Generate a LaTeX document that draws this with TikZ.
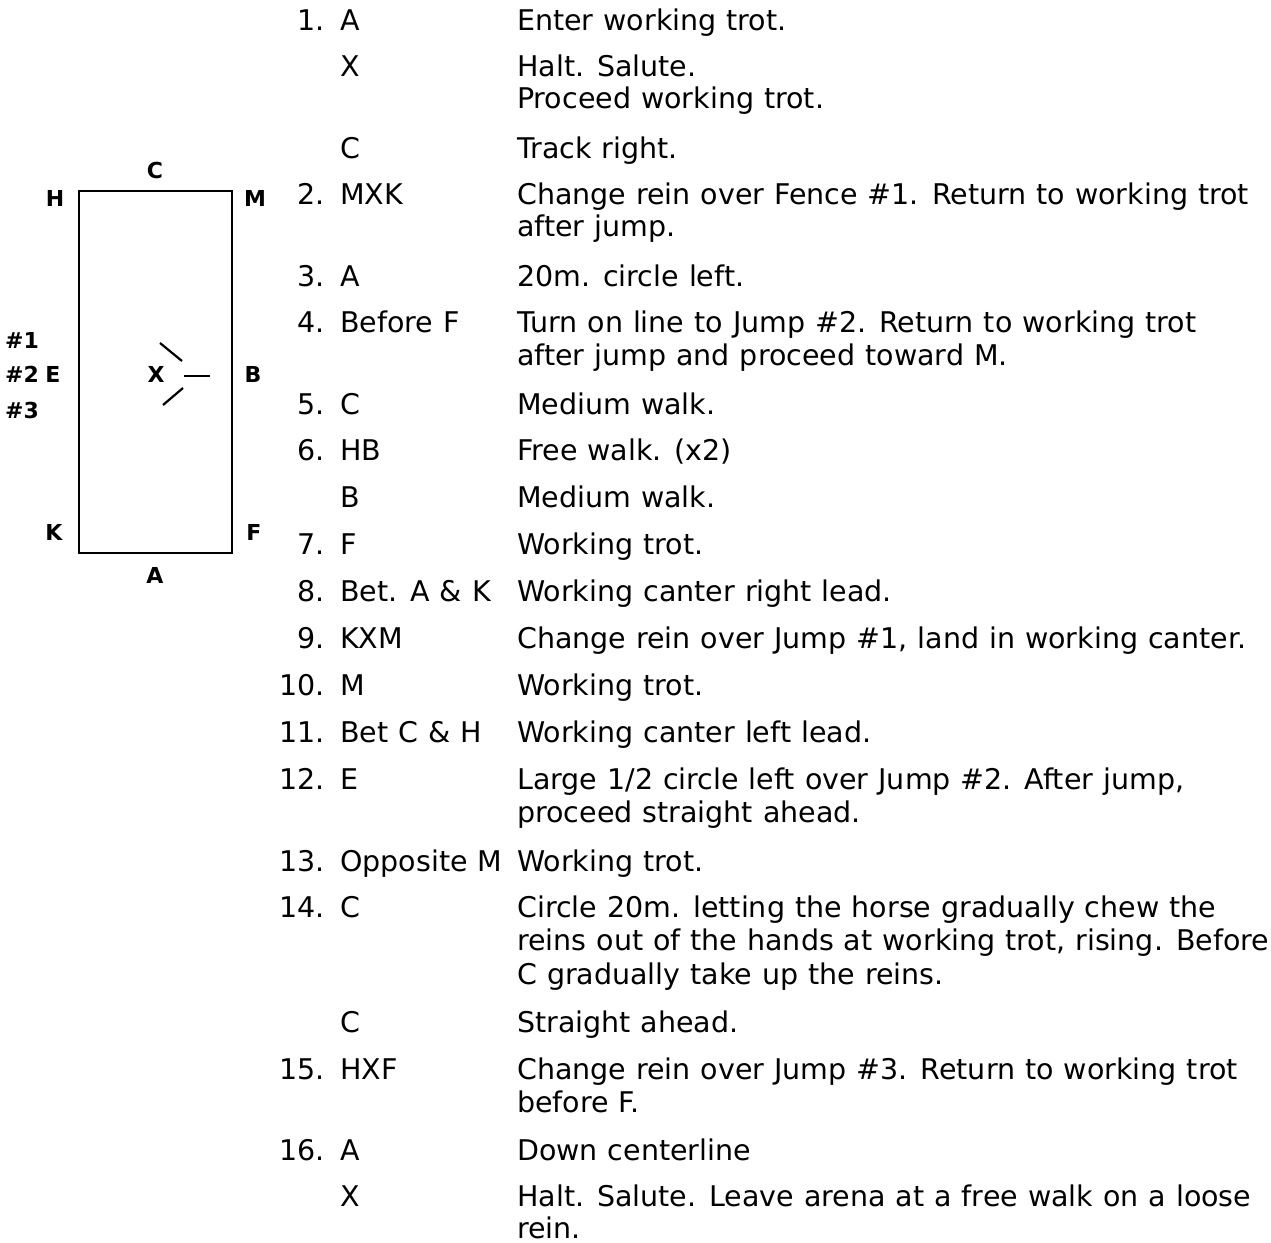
\documentclass[tikz,border=0pt]{standalone}
\usepackage{fontspec}
\setmainfont[WordSpace=1.1]{DejaVu Sans}
\newcommand{\txtfont}{\fontsize{28.5bp}{33bp}\selectfont}
\newcommand{\labfont}{\fontsize{22bp}{24bp}\selectfont\bfseries}
\begin{document}
\begin{tikzpicture}[x=1bp,y=-1bp,
  txt/.style={anchor=base west, inner sep=0pt, font=\txtfont},
  num/.style={anchor=base east, inner sep=0pt, font=\txtfont},
  lab/.style={anchor=base, inner sep=0pt, font=\labfont},
  arena/.style={line width=2.8bp, line join=miter},
  fence/.style={line width=2.2bp}]
\fill[white] (0,0) rectangle (1271,1243);
\useasboundingbox (0,0) rectangle (1271,1243);

% arena
\draw[arena] (79,191) rectangle (232,553);
\node[lab] (lC) at (155,178) {C};
\node[lab] (lH) at (55,206) {H};
\node[lab] (lM) at (255,206) {M};
\node[lab] (j1) at (22,348) {\#1};
\node[lab] (j2) at (22,382) {\#2};
\node[lab] (j3) at (22,418) {\#3};
\node[lab] (lE) at (53,382) {E};
\node[lab] (lX) at (156,382) {X};
\node[lab] (lB) at (253,382) {B};
\node[lab] (lK) at (54,540) {K};
\node[lab] (lF) at (254,540) {F};
\node[lab] (lA) at (155,583) {A};
\draw[fence] (160,343) -- (182,361);
\draw[fence] (184,376) -- (210,376);
\draw[fence] (183,388) -- (163,405);

% table
\def\nx{325}\def\lx{340}\def\tx{517}
\node[num] (n1) at (\nx,30) {1.};
\node[txt] (m1) at (\lx,30) {A};
\node[txt] (t1) at (\tx,30) {Enter working trot.};
\node[txt] (m1b) at (\lx,76) {X};
\node[txt] (t1b) at (\tx,76) {Halt. Salute.};
\node[txt] (t1b2) at (\tx,108) {Proceed working trot.};
\node[txt] (m1c) at (\lx,158) {C};
\node[txt] (t1c) at (\tx,158) {Track right.};
\node[num] (n2) at (\nx,204) {2.};
\node[txt] (m2) at (\lx,204) {MXK};
\node[txt] (t2) at (\tx,204) {Change rein over Fence \#1. Return to working trot};
\node[txt] (t2b) at (\tx,236) {after jump.};
\node[num] (n3) at (\nx,286) {3.};
\node[txt] (m3) at (\lx,286) {A};
\node[txt] (t3) at (\tx,286) {20m. circle left.};
\node[num] (n4) at (\nx,332) {4.};
\node[txt] (m4) at (\lx,332) {Before F};
\node[txt] (t4) at (\tx,332) {Turn on line to Jump \#2. Return to working trot};
\node[txt] (t4b) at (\tx,365) {after jump and proceed toward M.};
\node[num] (n5) at (\nx,414) {5.};
\node[txt] (m5) at (\lx,414) {C};
\node[txt] (t5) at (\tx,414) {Medium walk.};
\node[num] (n6) at (\nx,460) {6.};
\node[txt] (m6) at (\lx,460) {HB};
\node[txt] (t6) at (\tx,460) {Free walk. (x2)};
\node[txt] (m6b) at (\lx,507) {B};
\node[txt] (t6b) at (\tx,507) {Medium walk.};
\node[num] (n7) at (\nx,554) {7.};
\node[txt] (m7) at (\lx,554) {F};
\node[txt] (t7) at (\tx,554) {Working trot.};
\node[num] (n8) at (\nx,601) {8.};
\node[txt] (m8) at (\lx,601) {Bet. A \& K};
\node[txt] (t8) at (\tx,601) {Working canter right lead.};
\node[num] (n9) at (\nx,648) {9.};
\node[txt] (m9) at (\lx,648) {KXM};
\node[txt] (t9) at (\tx,648) {Change rein over Jump \#1, land in working canter.};
\node[num] (n10) at (\nx,695) {10.};
\node[txt] (m10) at (\lx,695) {M};
\node[txt] (t10) at (\tx,695) {Working trot.};
\node[num] (n11) at (\nx,742) {11.};
\node[txt] (m11) at (\lx,742) {Bet C \& H};
\node[txt] (t11) at (\tx,742) {Working canter left lead.};
\node[num] (n12) at (\nx,789) {12.};
\node[txt] (m12) at (\lx,789) {E};
\node[txt] (t12) at (\tx,789) {Large 1/2 circle left over Jump \#2. After jump,};
\node[txt] (t12b) at (\tx,822) {proceed straight ahead.};
\node[num] (n13) at (\nx,871) {13.};
\node[txt] (m13) at (\lx,871) {Opposite M};
\node[txt] (t13) at (\tx,871) {Working trot.};
\node[num] (n14) at (\nx,917) {14.};
\node[txt] (m14) at (\lx,917) {C};
\node[txt] (t14) at (\tx,917) {Circle 20m. letting the horse gradually chew the};
\node[txt] (t14b) at (\tx,950) {reins out of the hands at working trot, rising. Before};
\node[txt] (t14c) at (\tx,984) {C gradually take up the reins.};
\node[txt] (m14b) at (\lx,1032) {C};
\node[txt] (t14d) at (\tx,1032) {Straight ahead.};
\node[num] (n15) at (\nx,1079) {15.};
\node[txt] (m15) at (\lx,1079) {HXF};
\node[txt] (t15) at (\tx,1079) {Change rein over Jump \#3. Return to working trot};
\node[txt] (t15b) at (\tx,1112) {before F.};
\node[num] (n16) at (\nx,1160) {16.};
\node[txt] (m16) at (\lx,1160) {A};
\node[txt] (t16) at (\tx,1160) {Down centerline};
\node[txt] (m16b) at (\lx,1206) {X};
\node[txt] (t16b) at (\tx,1206) {Halt. Salute. Leave arena at a free walk on a loose};
\node[txt] (t16c) at (\tx,1238) {rein.};
\end{tikzpicture}
\end{document}
